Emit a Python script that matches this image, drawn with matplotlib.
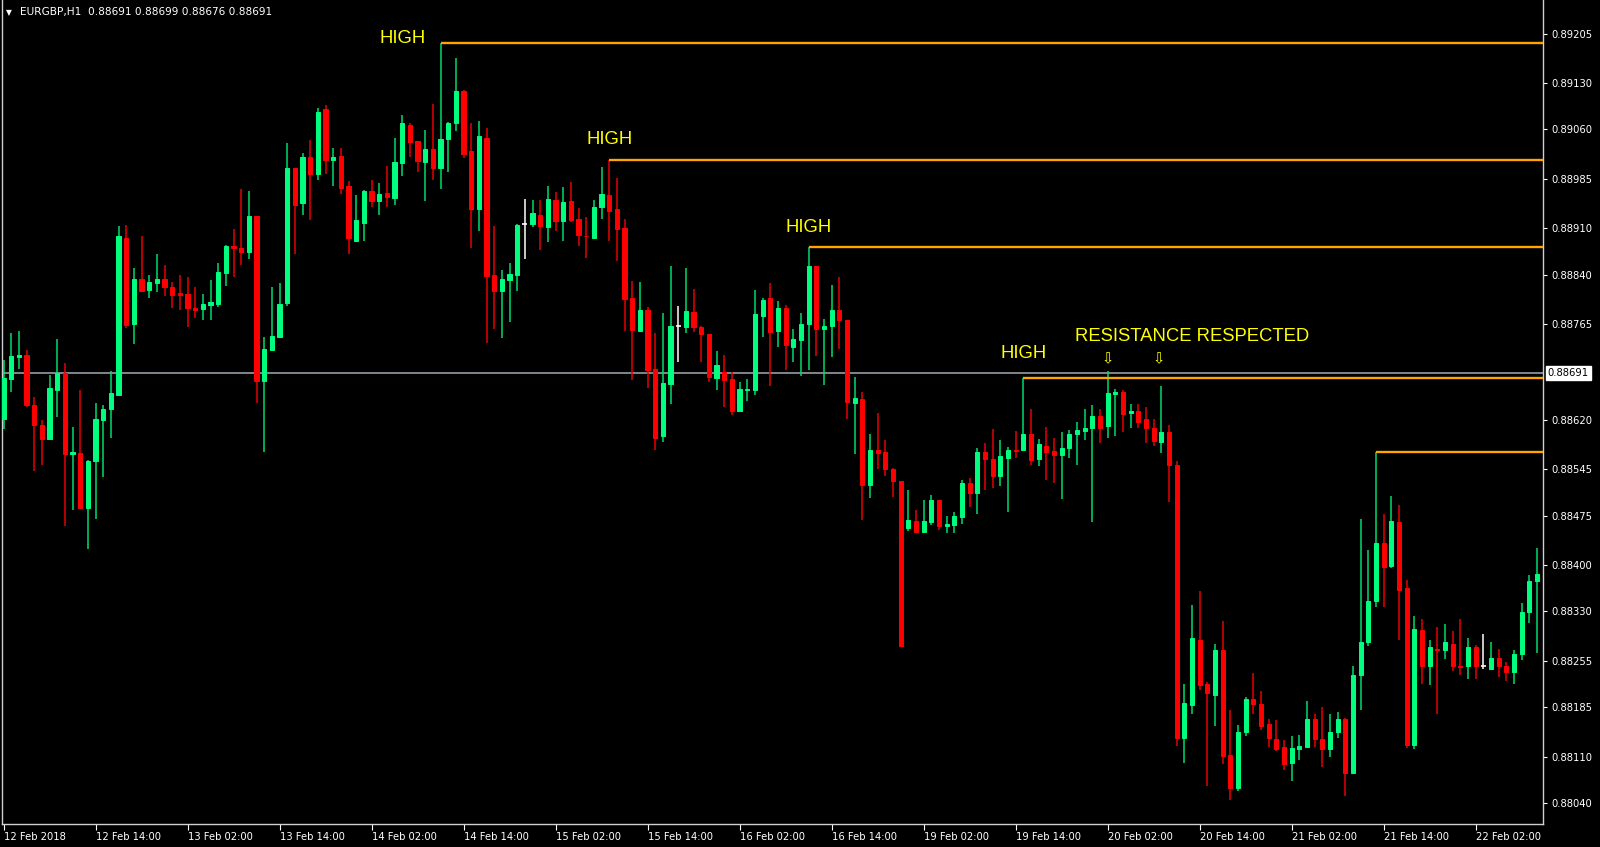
import matplotlib
matplotlib.use("Agg")
import matplotlib.pyplot as plt
import numpy as np

# ---------------- data (EURGBP H1) ----------------
opens = [
    0.88622, 0.88682, 0.88715, 0.88719, 0.88643, 0.88612, 0.88591, 0.88665, 0.88691, 0.88568,
    0.88570, 0.88487, 0.88558, 0.88620, 0.88636, 0.88658, 0.88895, 0.88766, 0.88833, 0.88817,
    0.88827, 0.88833, 0.88822, 0.88812, 0.88811, 0.88790, 0.88788, 0.88794, 0.88795, 0.88843,
    0.88883, 0.88881, 0.88874, 0.88929, 0.88679, 0.88726, 0.88746, 0.88797, 0.89002, 0.88949,
    0.89018, 0.88992, 0.89091, 0.89014, 0.89020, 0.88975, 0.88891, 0.88919, 0.88967, 0.88952,
    0.88963, 0.88956, 0.89009, 0.89067, 0.89042, 0.89011, 0.89031, 0.89001, 0.89045, 0.89069,
    0.89118, 0.89027, 0.88939, 0.89047, 0.88839, 0.88816, 0.88832, 0.88839, 0.88916, 0.88916,
    0.88931, 0.88912, 0.88953, 0.88922, 0.88951, 0.88925, 0.88899, 0.88896, 0.88942, 0.88961,
    0.88939, 0.88911, 0.88805, 0.88755, 0.88787, 0.88697, 0.88595, 0.88675, 0.88763, 0.88761,
    0.88784, 0.88761, 0.88750, 0.88683, 0.88692, 0.88682, 0.88634, 0.88665, 0.88666, 0.88778,
    0.88804, 0.88754, 0.88790, 0.88730, 0.88741, 0.88765, 0.88853, 0.88758, 0.88763, 0.88787,
    0.88772, 0.88646, 0.88652, 0.88521, 0.88575, 0.88572, 0.88545, 0.88528, 0.88457, 0.88467,
    0.88451, 0.88465, 0.88498, 0.88459, 0.88461, 0.88473, 0.88525, 0.88509, 0.88571, 0.88561,
    0.88535, 0.88563, 0.88575, 0.88574, 0.88599, 0.88561, 0.88581, 0.88573, 0.88567, 0.88577,
    0.88598, 0.88603, 0.88608, 0.88626, 0.88611, 0.88660, 0.88662, 0.88630, 0.88634, 0.88621,
    0.88608, 0.88587, 0.88601, 0.88552, 0.88138, 0.88188, 0.88287, 0.88220, 0.88204, 0.88272,
    0.88113, 0.88063, 0.88147, 0.88197, 0.88190, 0.88159, 0.88137, 0.88125, 0.88101, 0.88122,
    0.88125, 0.88167, 0.88137, 0.88121, 0.88147, 0.88167, 0.88085, 0.88234, 0.88283, 0.88345,
    0.88433, 0.88399, 0.88466, 0.88365, 0.88128, 0.88302, 0.88247, 0.88273, 0.88271, 0.88281,
    0.88248, 0.88248, 0.88276, 0.88248, 0.88243, 0.88259, 0.88248, 0.88238, 0.88265, 0.88329,
    0.88376,
]
highs = [
    0.88711, 0.88751, 0.88755, 0.88726, 0.88655, 0.88620, 0.88688, 0.88743, 0.88706, 0.88610,
    0.88665, 0.88559, 0.88646, 0.88643, 0.88694, 0.88914, 0.88915, 0.88850, 0.88898, 0.88839,
    0.88872, 0.88854, 0.88829, 0.88839, 0.88836, 0.88821, 0.88811, 0.88832, 0.88857, 0.88885,
    0.88909, 0.88970, 0.88966, 0.88929, 0.88746, 0.88821, 0.88827, 0.89040, 0.89002, 0.89024,
    0.89044, 0.89093, 0.89097, 0.89032, 0.89032, 0.88982, 0.88960, 0.88968, 0.88984, 0.88979,
    0.89004, 0.89047, 0.89082, 0.89070, 0.89043, 0.89059, 0.89099, 0.89191, 0.89071, 0.89168,
    0.89120, 0.89070, 0.89072, 0.89062, 0.88913, 0.88847, 0.88857, 0.88916, 0.88955, 0.88953,
    0.88953, 0.88974, 0.88965, 0.88973, 0.88981, 0.88941, 0.88927, 0.88953, 0.89003, 0.89014,
    0.88987, 0.88925, 0.88831, 0.88829, 0.88791, 0.88752, 0.88782, 0.88853, 0.88793, 0.88850,
    0.88818, 0.88762, 0.88750, 0.88725, 0.88718, 0.88692, 0.88677, 0.88682, 0.88817, 0.88805,
    0.88827, 0.88800, 0.88794, 0.88757, 0.88782, 0.88882, 0.88853, 0.88773, 0.88825, 0.88836,
    0.88772, 0.88685, 0.88663, 0.88598, 0.88631, 0.88590, 0.88547, 0.88528, 0.88514, 0.88484,
    0.88499, 0.88507, 0.88498, 0.88474, 0.88481, 0.88529, 0.88532, 0.88578, 0.88585, 0.88606,
    0.88589, 0.88579, 0.88603, 0.88684, 0.88636, 0.88591, 0.88610, 0.88593, 0.88601, 0.88605,
    0.88617, 0.88637, 0.88642, 0.88637, 0.88694, 0.88667, 0.88665, 0.88644, 0.88644, 0.88639,
    0.88622, 0.88671, 0.88612, 0.88558, 0.88220, 0.88339, 0.88361, 0.88223, 0.88281, 0.88315,
    0.88181, 0.88158, 0.88200, 0.88236, 0.88210, 0.88167, 0.88165, 0.88135, 0.88141, 0.88143,
    0.88195, 0.88174, 0.88185, 0.88174, 0.88177, 0.88168, 0.88248, 0.88470, 0.88423, 0.88571,
    0.88477, 0.88505, 0.88491, 0.88378, 0.88323, 0.88319, 0.88287, 0.88307, 0.88311, 0.88300,
    0.88319, 0.88290, 0.88279, 0.88296, 0.88284, 0.88273, 0.88253, 0.88271, 0.88342, 0.88385,
    0.88426,
]
lows = [
    0.88607, 0.88663, 0.88697, 0.88640, 0.88542, 0.88552, 0.88589, 0.88625, 0.88460, 0.88483,
    0.88486, 0.88425, 0.88470, 0.88534, 0.88593, 0.88657, 0.88759, 0.88735, 0.88814, 0.88805,
    0.88813, 0.88807, 0.88790, 0.88787, 0.88761, 0.88774, 0.88772, 0.88772, 0.88791, 0.88823,
    0.88836, 0.88854, 0.88863, 0.88646, 0.88571, 0.88724, 0.88745, 0.88792, 0.88871, 0.88931,
    0.88923, 0.88984, 0.88993, 0.88975, 0.88962, 0.88872, 0.88890, 0.88891, 0.88942, 0.88930,
    0.88943, 0.88945, 0.88990, 0.89018, 0.88996, 0.88952, 0.88984, 0.88970, 0.88995, 0.89058,
    0.89017, 0.88880, 0.88906, 0.88737, 0.88757, 0.88744, 0.88768, 0.88815, 0.88864, 0.88912,
    0.88878, 0.88890, 0.88906, 0.88891, 0.88920, 0.88883, 0.88865, 0.88895, 0.88924, 0.88891,
    0.88861, 0.88755, 0.88680, 0.88755, 0.88668, 0.88575, 0.88586, 0.88644, 0.88707, 0.88751,
    0.88753, 0.88707, 0.88677, 0.88665, 0.88639, 0.88628, 0.88634, 0.88649, 0.88657, 0.88746,
    0.88671, 0.88730, 0.88695, 0.88707, 0.88687, 0.88696, 0.88717, 0.88673, 0.88715, 0.88727,
    0.88622, 0.88569, 0.88469, 0.88501, 0.88546, 0.88535, 0.88503, 0.88276, 0.88452, 0.88450,
    0.88451, 0.88461, 0.88454, 0.88448, 0.88448, 0.88462, 0.88488, 0.88478, 0.88514, 0.88517,
    0.88520, 0.88480, 0.88563, 0.88574, 0.88551, 0.88550, 0.88529, 0.88525, 0.88500, 0.88562,
    0.88551, 0.88590, 0.88466, 0.88585, 0.88593, 0.88595, 0.88602, 0.88608, 0.88608, 0.88585,
    0.88580, 0.88570, 0.88496, 0.88126, 0.88101, 0.88175, 0.88211, 0.88065, 0.88157, 0.88099,
    0.88045, 0.88058, 0.88141, 0.88175, 0.88151, 0.88124, 0.88118, 0.88090, 0.88073, 0.88105,
    0.88123, 0.88124, 0.88095, 0.88110, 0.88138, 0.88050, 0.88083, 0.88181, 0.88277, 0.88336,
    0.88336, 0.88395, 0.88286, 0.88123, 0.88122, 0.88220, 0.88219, 0.88175, 0.88258, 0.88239,
    0.88234, 0.88227, 0.88227, 0.88243, 0.88241, 0.88230, 0.88225, 0.88220, 0.88257, 0.88312,
    0.88267,
]
closes = [
    0.88683, 0.88717, 0.88719, 0.88643, 0.88612, 0.88591, 0.88669, 0.88691, 0.88568, 0.88571,
    0.88487, 0.88558, 0.88621, 0.88637, 0.88661, 0.88898, 0.88764, 0.88833, 0.88815, 0.88829,
    0.88833, 0.88821, 0.88809, 0.88809, 0.88789, 0.88787, 0.88796, 0.88798, 0.88844, 0.88884,
    0.88881, 0.88875, 0.88929, 0.88679, 0.88728, 0.88747, 0.88796, 0.89002, 0.88946, 0.89018,
    0.88993, 0.89087, 0.89013, 0.89018, 0.88972, 0.88896, 0.88923, 0.88966, 0.88952, 0.88962,
    0.88958, 0.89010, 0.89069, 0.89041, 0.89012, 0.89031, 0.89002, 0.89046, 0.89070, 0.89118,
    0.89023, 0.88939, 0.89050, 0.88838, 0.88816, 0.88833, 0.88841, 0.88915, 0.88916, 0.88933,
    0.88913, 0.88954, 0.88922, 0.88950, 0.88923, 0.88900, 0.88898, 0.88943, 0.88962, 0.88937,
    0.88909, 0.88803, 0.88756, 0.88786, 0.88696, 0.88593, 0.88676, 0.88763, 0.88763, 0.88785,
    0.88760, 0.88750, 0.88685, 0.88703, 0.88681, 0.88634, 0.88667, 0.88667, 0.88780, 0.88802,
    0.88753, 0.88789, 0.88733, 0.88743, 0.88766, 0.88853, 0.88758, 0.88763, 0.88787, 0.88771,
    0.88647, 0.88653, 0.88521, 0.88575, 0.88570, 0.88545, 0.88528, 0.88278, 0.88469, 0.88451,
    0.88467, 0.88498, 0.88459, 0.88462, 0.88475, 0.88525, 0.88510, 0.88571, 0.88561, 0.88535,
    0.88565, 0.88575, 0.88573, 0.88599, 0.88559, 0.88583, 0.88572, 0.88567, 0.88578, 0.88599,
    0.88604, 0.88608, 0.88626, 0.88608, 0.88661, 0.88662, 0.88629, 0.88634, 0.88617, 0.88608,
    0.88588, 0.88601, 0.88551, 0.88139, 0.88191, 0.88289, 0.88219, 0.88206, 0.88272, 0.88111,
    0.88063, 0.88148, 0.88197, 0.88189, 0.88157, 0.88139, 0.88122, 0.88099, 0.88123, 0.88126,
    0.88167, 0.88137, 0.88122, 0.88148, 0.88167, 0.88085, 0.88234, 0.88284, 0.88345, 0.88433,
    0.88398, 0.88467, 0.88363, 0.88127, 0.88303, 0.88247, 0.88276, 0.88271, 0.88283, 0.88247,
    0.88246, 0.88276, 0.88247, 0.88248, 0.88260, 0.88247, 0.88238, 0.88266, 0.88329, 0.88376,
    0.88386,
]

x_tick_labels = ["12 Feb 2018", "12 Feb 14:00", "13 Feb 02:00", "13 Feb 14:00",
                 "14 Feb 02:00", "14 Feb 14:00", "15 Feb 02:00", "15 Feb 14:00",
                 "16 Feb 02:00", "16 Feb 14:00", "19 Feb 02:00", "19 Feb 14:00",
                 "20 Feb 02:00", "20 Feb 14:00", "21 Feb 02:00", "21 Feb 14:00",
                 "22 Feb 02:00"]
bars_per_label = 12
y_tick_values = [0.89205, 0.89130, 0.89060, 0.88985, 0.88910, 0.88840, 0.88765,
                 0.88620, 0.88545, 0.88475, 0.88400, 0.88330, 0.88255, 0.88185,
                 0.88110, 0.88040]
current_price = 0.88691
title_text = "EURGBP,H1  0.88691 0.88699 0.88676 0.88691"

# swing highs marked with horizontal lines (bar index)
high_bars = [57, 79, 105, 133, 179]
# annotation texts and their anchors (bar index, price)
high_labels = ["HIGH", "HIGH", "HIGH", "HIGH"]
high_label_x = [52.0, 79.0, 105.0, 133.0]
high_label_y = [0.89197, 0.89044, 0.88911, 0.88721]
res_label = "RESISTANCE RESPECTED"
res_label_x = 155.0
res_label_y = 0.88747
arrow_x = [144.0, 150.6]
arrow_y = 0.88712

# ---------------- drawing ----------------
BULL = "#00FF7F"
BULL_WICK = "#00DC6E"
BEAR = "#FF0000"
BEAR_WICK = "#E80000"

fig = plt.figure(figsize=(16, 8.47), dpi=100)
fig.patch.set_facecolor("black")
ax = fig.add_axes([2 / 1600, 1 - 824 / 847, 1541 / 1600, 824 / 847])
ax.set_facecolor("black")

o = np.array(opens)
h = np.array(highs)
l = np.array(lows)
c = np.array(closes)
x = np.arange(len(o))
up = c > o
dn = c < o
eq = c == o

ax.axhline(current_price, color="#8A9099", lw=1.3, zorder=1)

ax.vlines(x[up], l[up], h[up], color=BULL_WICK, lw=1.1, zorder=2)
ax.vlines(x[dn], l[dn], h[dn], color=BEAR_WICK, lw=1.1, zorder=2)
ax.vlines(x[eq], l[eq], h[eq], color="white", lw=1.1, zorder=2)

bw = 0.56
ax.bar(x[up], c[up] - o[up], bottom=o[up], width=bw, color=BULL,
       edgecolor=BULL, lw=0.7, zorder=3)
ax.bar(x[dn], o[dn] - c[dn], bottom=c[dn], width=bw, color=BEAR,
       edgecolor=BEAR, lw=0.7, zorder=3)
ax.hlines(o[eq], x[eq] - 0.33, x[eq] + 0.33, color="white", lw=1.2, zorder=3)

x_right = 200.78
ax.set_xlim(-0.21, x_right)
ax.set_ylim(0.88008, 0.89256)

for b in high_bars:
    ax.hlines(h[b], b, x_right + 1, color="#FFA500", lw=1.7, zorder=4)

for t, tx, ty in zip(high_labels, high_label_x, high_label_y):
    ax.text(tx, ty, t, color="#FFFF00", fontsize=13.3, family="Liberation Sans",
            ha="center", va="center", zorder=5)
ax.text(res_label_x, res_label_y, res_label, color="#FFFF00", fontsize=13.3,
        family="Liberation Sans", ha="center", va="center", zorder=5)
for axx in arrow_x:
    ax.text(axx, arrow_y, "\u21e9", color="#FFFF00", fontsize=10.5,
            family="DejaVu Sans", ha="center", va="center", zorder=5)

# axes styling
for s in ["top"]:
    ax.spines[s].set_visible(False)
for s in ["left", "right", "bottom"]:
    ax.spines[s].set_color("#D0D0D0")
    ax.spines[s].set_linewidth(1.0)

ax.set_xticks(np.arange(len(x_tick_labels)) * bars_per_label)
ax.set_xticklabels(x_tick_labels)
for lbl in ax.get_xticklabels():
    lbl.set_horizontalalignment("left")
ax.tick_params(axis="x", colors="white", length=4, width=0.8, pad=2,
               labelsize=7.2, direction="out")

ax.yaxis.tick_right()
ax.set_yticks(y_tick_values)
ax.set_yticklabels([f"{v:.5f}" for v in y_tick_values])
ax.tick_params(axis="y", colors="white", length=3, width=0.8, pad=3,
               labelsize=7.2, direction="out", left=False)

ax.annotate(f"{current_price:.5f}", xy=(1.0, current_price),
            xycoords=("axes fraction", "data"), xytext=(3.5, 0),
            textcoords="offset points", ha="left", va="center",
            fontsize=7.2, color="black", annotation_clip=False,
            bbox=dict(boxstyle="square,pad=0.18", facecolor="white",
                      edgecolor="white"), zorder=6)

fig.text(6 / 1600, 1 - 12.5 / 847, "\u25bc", color="white", fontsize=5.5,
         ha="left", va="center")
fig.text(20 / 1600, 1 - 12.5 / 847, title_text, color="white", fontsize=7.6,
         ha="left", va="center")

fig.savefig("out.png", dpi=100, facecolor="black")
